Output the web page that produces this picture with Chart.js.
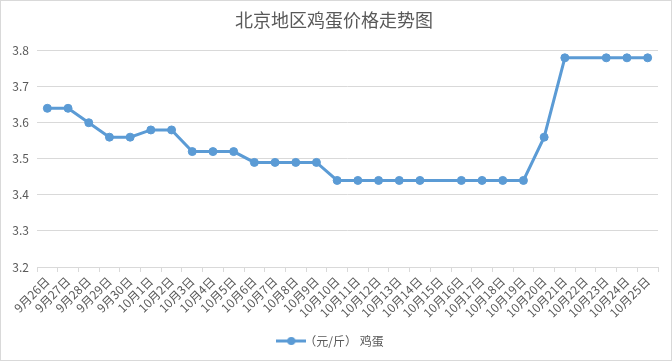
<!DOCTYPE html>
<html>
<head>
<meta charset="utf-8">
<script src="https://cdn.jsdelivr.net/npm/chart.js@4"></script>
<style>
  html, body { margin: 0; padding: 0; background: #fff; }
  #wrap { width: 672px; height: 361px; position: relative; }
</style>
</head>
<body>
<div id="wrap"><canvas id="eggChart"></canvas></div>
<script>
// categories (dates)
const dates = ['9月26日', '9月27日', '9月28日', '9月29日', '9月30日',
    '10月1日', '10月2日', '10月3日', '10月4日', '10月5日', '10月6日', '10月7日', '10月8日', '10月9日', '10月10日',
    '10月11日', '10月12日', '10月13日', '10月14日', '10月15日', '10月16日', '10月17日', '10月18日', '10月19日', '10月20日',
    '10月21日', '10月22日', '10月23日', '10月24日', '10月25日'];

// egg price, yuan per jin (null = no quote that day)
const eggPrices = [3.64, 3.64, 3.60, 3.56, 3.56, 3.58, 3.58, 3.52, 3.52, 3.52,
    3.49, 3.49, 3.49, 3.49, 3.44, 3.44, 3.44, 3.44, 3.44, null,
    3.44, 3.44, 3.44, 3.44, 3.56, 3.78, null, 3.78, 3.78, 3.78];

const seriesName = '（元/斤） 鸡蛋';
const yMin = 3.2, yMax = 3.8, yStep = 0.1;

const blue = '#5B9BD5';
const grey = '#595959';
const gridGrey = '#d9d9d9';
const fontFamily = "'Noto Sans CJK SC', 'Noto Sans', sans-serif";

// legend marker: short line with a dot (wider than its legend box so the text sits close)
const marker = document.createElement('canvas');
marker.width = 30; marker.height = 10;
(() => {
    const c = marker.getContext('2d');
    c.strokeStyle = blue;
    c.lineWidth = 3;
    c.beginPath(); c.moveTo(0, 5); c.lineTo(30, 5); c.stroke();
    c.fillStyle = blue;
    c.beginPath(); c.arc(15, 5, 4, 0, Math.PI * 2); c.fill();
})();

// white background + thin outer border
const frame = {
    id: 'frame',
    beforeDraw: (chart) => {
        const { ctx, width, height } = chart;
        ctx.save();
        ctx.fillStyle = '#fff';
        ctx.fillRect(0, 0, width, height);
        ctx.strokeStyle = gridGrey;
        ctx.lineWidth = 1;
        ctx.strokeRect(0.5, 0.5, width - 1, height - 1);
        ctx.restore();
    }
};

Chart.defaults.font.family = fontFamily;
Chart.defaults.color = grey;

new Chart(document.getElementById('eggChart').getContext('2d'), {
    type: 'line',
    plugins: [frame],
    data: {
        labels: dates,
        datasets: [{
            label: seriesName,
            data: eggPrices,
            borderColor: blue,
            backgroundColor: blue,
            borderWidth: 3,
            pointRadius: 4,
            pointBackgroundColor: blue,
            pointBorderColor: blue,
            pointBorderWidth: 1,
            spanGaps: true,
            tension: 0
        }]
    },
    options: {
        responsive: true,
        maintainAspectRatio: false,
        animation: false,
        layout: { padding: { left: 10, right: 14, top: 0, bottom: 4 } },
        plugins: {
            title: {
                display: true,
                text: '北京地区鸡蛋价格走势图',
                color: grey,
                font: { size: 18, weight: 'normal' },
                padding: { top: 9, bottom: 20 }
            },
            legend: {
                position: 'bottom',
                labels: {
                    usePointStyle: true,
                    pointStyleWidth: 14,
                    color: grey,
                    font: { size: 12 },
                    generateLabels: (chart) => [{
                        text: seriesName,
                        pointStyle: marker,
                        fontColor: grey,
                        datasetIndex: 0,
                        hidden: false,
                        lineWidth: 0
                    }]
                }
            },
            tooltip: { enabled: false }
        },
        scales: {
            x: {
                offset: true,
                afterFit: (s) => { s.height = 58; },
                grid: {
                    offset: true,
                    drawOnChartArea: false,
                    drawTicks: true,
                    tickLength: 5,
                    color: gridGrey
                },
                border: { color: gridGrey },
                ticks: {
                    autoSkip: false,
                    maxRotation: 45,
                    minRotation: 45,
                    padding: 2,
                    color: grey,
                    font: { size: 12 }
                }
            },
            y: {
                min: yMin,
                max: yMax,
                afterFit: (s) => { s.width = 27; },
                grid: { color: gridGrey, drawTicks: false },
                border: { display: false },
                ticks: {
                    stepSize: yStep,
                    padding: 8,
                    color: grey,
                    font: { size: 12 },
                    callback: (v) => v.toFixed(1)
                }
            }
        }
    }
});
</script>
</body>
</html>
